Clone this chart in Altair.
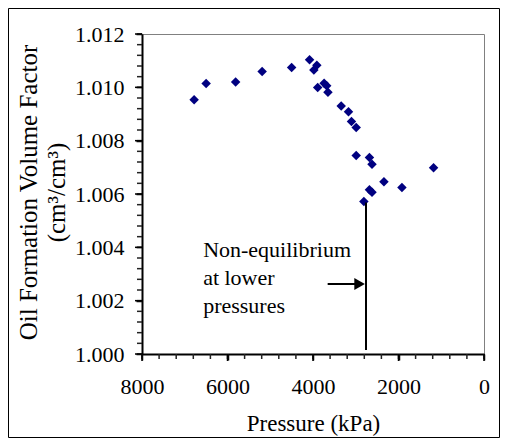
import altair as alt
import pandas as pd

# Data
pressure_kpa = [6780, 6500, 5810, 5190, 4500, 4080, 3910, 3980, 3740, 3680, 3890, 3650,
                3340, 3170, 3100, 2990, 2990, 2680, 2620, 1180, 2340, 1920, 2680, 2620, 2810]
bo = [1.00953, 1.01014, 1.01020, 1.01059, 1.01074, 1.01103, 1.01083, 1.01065, 1.01015,
      1.01006, 1.00999, 1.00982, 1.00930, 1.00908, 1.00872, 1.00849, 1.00744, 1.00737,
      1.00712, 1.00698, 1.00646, 1.00624, 1.00616, 1.00607, 1.00572]

x_major = [0, 2000, 4000, 6000, 8000]
x_minor = list(range(0, 8001, 400))
y_major = [1.000, 1.002, 1.004, 1.006, 1.008, 1.010, 1.012]
y_minor = [round(1.0 + 0.0004 * i, 4) for i in range(31)]

annotation_lines = ["Non-equilibrium", "at lower", "pressures"]
marker_line = {"p": [2760], "b1": [1.00568], "b2": [1.00015]}
arrow = {"p1": [3657], "p2": [2910], "b": [1.002625]}
text_pos = {"p": [6570], "b": [1.00365]}

FONT = "Liberation Serif"

df = pd.DataFrame({"p": pressure_kpa, "b": bo})

xscale = alt.Scale(domain=[0, 8000], reverse=True, nice=False)
yscale = alt.Scale(domain=[1.0, 1.012], nice=False, zero=False)

xaxis = alt.Axis(
    orient="bottom", values=x_major, format="d",
    ticks=True, tickSize=6, tickColor="black", tickWidth=1.5,
    domainColor="black", domainWidth=2,
    labelFont=FONT, labelFontSize=22, labelColor="black",
    labelBaseline="alphabetic", labelPadding=33, labelOverlap=False, labelFlush=False,
    grid=False,
    title="Pressure (kPa)", titleFont=FONT, titleFontSize=23, titleFontWeight="normal",
    titleColor="black", titleX=171, titleY=76, titleAlign="center", titleBaseline="alphabetic",
)

yaxis = alt.Axis(
    orient="left", values=y_major, format=".3f",
    ticks=True, tickSize=6, tickColor="black", tickWidth=1.5,
    domainColor="black", domainWidth=2,
    labelFont=FONT, labelFontSize=22, labelColor="black",
    labelPadding=12, labelOverlap=False, labelFlush=False,
    grid=False,
    title=["Oil Formation Volume Factor", "(cm³/cm³)"],
    titleFont=FONT, titleFontSize=25, titleFontWeight="normal", titleColor="black",
    titleAngle=-90, titleX=-106, titleY=158, titleAlign="center", titleBaseline="alphabetic",
    titleLineHeight=28,
)

points = alt.Chart(df).mark_point(shape="diamond", filled=True, size=90, opacity=1,
                                  color="#000080").encode(
    x=alt.X("p:Q", scale=xscale, axis=xaxis),
    y=alt.Y("b:Q", scale=yscale, axis=yaxis),
)

# tick marks drawn as rules through the shared scales
ytick_minor = alt.Chart(pd.DataFrame({"v": y_minor})).mark_rule(
    color="#222222", strokeWidth=1.5, opacity=1).encode(
    y=alt.Y("v:Q", scale=yscale, axis=None), x=alt.value(-5), x2=alt.value(0))
ytick_major = alt.Chart(pd.DataFrame({"v": y_major})).mark_rule(
    color="black", strokeWidth=1.5, opacity=1).encode(
    y=alt.Y("v:Q", scale=yscale, axis=None), x=alt.value(-7), x2=alt.value(0))
xtick_minor = alt.Chart(pd.DataFrame({"v": x_minor})).mark_rule(
    color="#222222", strokeWidth=1.5, opacity=1).encode(
    x=alt.X("v:Q", scale=xscale, axis=None), y=alt.value(320), y2=alt.value(325))
xtick_major = alt.Chart(pd.DataFrame({"v": x_major})).mark_rule(
    color="black", strokeWidth=1.5, opacity=1).encode(
    x=alt.X("v:Q", scale=xscale, axis=None), y=alt.value(320), y2=alt.value(327))

vline = alt.Chart(pd.DataFrame(marker_line)).mark_rule(color="black", strokeWidth=2).encode(
    x=alt.X("p:Q", scale=xscale, axis=None), y=alt.Y("b1:Q", scale=yscale, axis=None), y2="b2:Q")

arrow_shaft = alt.Chart(pd.DataFrame(arrow)).mark_rule(color="black", strokeWidth=2).encode(
    x=alt.X("p1:Q", scale=xscale, axis=None), x2="p2:Q", y=alt.Y("b:Q", scale=yscale, axis=None))

arrow_head = alt.Chart(pd.DataFrame({"p": arrow["p2"], "b": arrow["b"]})).mark_point(
    shape="triangle-right", filled=True, size=150, color="black", opacity=1).encode(
    x=alt.X("p:Q", scale=xscale, axis=None), y=alt.Y("b:Q", scale=yscale, axis=None))

label = alt.Chart(pd.DataFrame({"p": text_pos["p"], "b": text_pos["b"],
                                "t": [annotation_lines]})).mark_text(
    align="left", baseline="alphabetic", font=FONT, fontSize=22, lineHeight=28,
    color="black").encode(x=alt.X("p:Q", scale=xscale, axis=None),
                          y=alt.Y("b:Q", scale=yscale, axis=None), text="t")

frame = alt.Chart(pd.DataFrame({"a": [0]})).mark_rect(
    fill=None, stroke="black", strokeWidth=1).encode(
    x=alt.value(-133.5), x2=alt.value(357.5), y=alt.value(-25.5), y2=alt.value(403.5))

chart = alt.layer(points, frame, ytick_minor, ytick_major, xtick_minor, xtick_major,
                  vline, arrow_shaft, arrow_head, label).resolve_axis(
    x="independent", y="independent"
).properties(
    width=342, height=320,
    autosize=alt.AutoSizeParams(type="none"),
    padding={"left": 134, "top": 26, "right": 16, "bottom": 84},
).configure_view(stroke="#808080", strokeWidth=1)

chart.save("out.html", embed_options={"renderer": "svg", "actions": False})
